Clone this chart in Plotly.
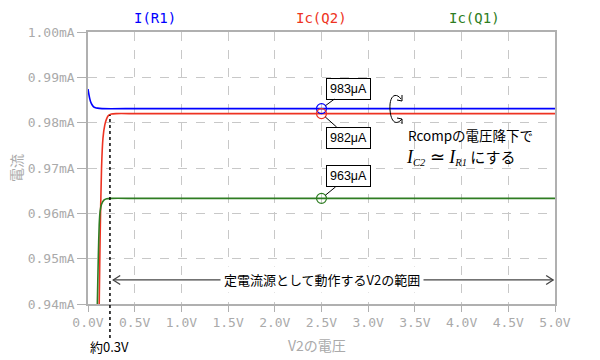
import plotly.graph_objects as go

# ---- data (V in volts, I in mA) ----
v_r1 = [0.0, 0.01, 0.02, 0.03, 0.045, 0.06, 0.08, 0.10, 0.15, 0.5, 1.0, 2.0, 3.0, 4.0, 5.0]
i_r1 = [0.9874, 0.9862, 0.9852, 0.9845, 0.9839, 0.9835, 0.9833, 0.9832, 0.9831, 0.9831, 0.9831, 0.9831, 0.9831, 0.9831, 0.9831]

v_q2 = [0.115, 0.12, 0.13, 0.145, 0.16, 0.18, 0.20, 0.22, 0.25, 0.3, 0.5, 1.0, 2.0, 3.0, 4.0, 5.0]
i_q2 = [0.935, 0.940, 0.955, 0.970, 0.9765, 0.9795, 0.9809, 0.9816, 0.9819, 0.9820, 0.9820, 0.9820, 0.9820, 0.9820, 0.9820, 0.9820]

v_q1 = [0.095, 0.10, 0.11, 0.12, 0.13, 0.145, 0.17, 0.20, 0.25, 0.5, 1.0, 2.0, 3.0, 4.0, 5.0]
i_q1 = [0.935, 0.940, 0.950, 0.9575, 0.9605, 0.9620, 0.9629, 0.9632, 0.9633, 0.9633, 0.9633, 0.9633, 0.9633, 0.9633, 0.9633]

marker_v = 2.5
marker_i = [0.9831, 0.9820, 0.9633]
marker_labels = ["983μA", "982μA", "963μA"]

names = ["I(R1)", "Ic(Q2)", "Ic(Q1)"]
colors = ["#0000ff", "#ee3322", "#2e7d22"]
name_x = [0.72, 2.5, 4.14]

x_ticks = [0.0, 0.5, 1.0, 1.5, 2.0, 2.5, 3.0, 3.5, 4.0, 4.5, 5.0]
y_ticks = [0.94, 0.95, 0.96, 0.97, 0.98, 0.99, 1.00]

knee_v = 0.235
range_arrow_i = 0.9453
range_arrow_v = [0.27, 4.98]

fig = go.Figure()
for vx, iy, c in [(v_r1, i_r1, colors[0]), (v_q2, i_q2, colors[1]), (v_q1, i_q1, colors[2])]:
    fig.add_trace(go.Scatter(x=vx, y=iy, mode="lines", line=dict(color=c, width=1.6, shape="spline", smoothing=0.6),
                             showlegend=False, hoverinfo="skip"))
for iy, c in zip(marker_i, colors):
    fig.add_trace(go.Scatter(x=[marker_v], y=[iy], mode="markers",
                             marker=dict(symbol="circle-open", size=10, color=c, line=dict(width=1.2, color=c)),
                             showlegend=False, hoverinfo="skip"))

grid = "#c8c8c8"
axcol = "#b0b0b0"
tickfont = dict(family="DejaVu Sans Mono", size=13, color="#aaaaaa")

fig.update_layout(
    width=600, height=360,
    margin=dict(l=88, r=45, t=32, b=56),
    paper_bgcolor="white", plot_bgcolor="white",
    xaxis=dict(range=[0, 5], tickvals=x_ticks, ticktext=[f"{t:.1f}V" for t in x_ticks],
               showgrid=True, gridcolor=grid, griddash="dash", gridwidth=1,
               showline=True, linecolor=axcol, linewidth=1.5, mirror=True,
               ticks="outside", ticklen=6, tickcolor=axcol, tickfont=tickfont, zeroline=False),
    yaxis=dict(range=[0.94, 1.00], tickvals=y_ticks, ticktext=[f"{t:.2f}mA" for t in y_ticks],
               showgrid=True, gridcolor=grid, griddash="dash", gridwidth=1,
               showline=True, linecolor=axcol, linewidth=1.5, mirror=True,
               ticks="outside", ticklen=9, tickcolor=axcol, tickfont=tickfont, zeroline=False),
)

anns = []
# series names at top
for n, c, xv in zip(names, colors, name_x):
    anns.append(dict(x=xv, y=1.05, xref="x", yref="paper", text=n, showarrow=False,
                     font=dict(family="DejaVu Sans Mono", size=14, color=c), yanchor="middle"))
# axis titles
anns.append(dict(x=(16 - 88) / 467, y=0.5, xref="paper", yref="paper", text="電流", textangle=-90, showarrow=False,
                 xanchor="center", yanchor="middle",
                 font=dict(family="Noto Sans CJK JP", size=14, color="#aaaaaa")))
anns.append(dict(x=0.49, y=-0.152, xref="paper", yref="paper", text="V2の電圧", showarrow=False,
                 xanchor="center", font=dict(family="Noto Sans CJK JP", size=14, color="#aaaaaa"), yanchor="middle"))
# callouts
offsets = [(27, -20), (27, 24), (27, -22)]
for iy, lab, (ax, ay) in zip(marker_i, marker_labels, offsets):
    anns.append(dict(x=marker_v, y=iy, xref="x", yref="y", text=lab, showarrow=True, arrowhead=0,
                     arrowwidth=1, arrowcolor="black", ax=ax, ay=ay, standoff=5,
                     bgcolor="white", bordercolor="black", borderwidth=1, borderpad=3,
                     font=dict(family="Liberation Sans", size=12.5, color="black")))
# note
anns.append(dict(x=(406 - 88) / 93.4, y=(304 - 135) / 272, xref="x", yref="paper", text="Rcompの電圧降下で",
                 showarrow=False, xanchor="left", yanchor="middle",
                 font=dict(family="Noto Sans CJK JP", size=13.5, color="black")))
serif = "font-family:'Liberation Serif';font-size:18px"
anns.append(dict(x=(404 - 88) / 93.4, y=(304 - 157) / 272, xref="x", yref="paper",
                 text=(f"<span style=\"{serif}\"><i>I</i></span><sub><span style=\"font-family:'Liberation Serif'\"><i>C2</i></span></sub>"
                       f"<span style=\"{serif}\"> ≃ <i>I</i></span><sub><span style=\"font-family:'Liberation Serif'\"><i>R1</i></span></sub>"
                       " にする"),
                 showarrow=False, xanchor="left", yanchor="middle",
                 font=dict(family="Noto Sans CJK JP", size=15, color="black")))
anns.append(dict(x=2.51, y=range_arrow_i, xref="x", yref="y", text="定電流源として動作するV2の範囲",
                 showarrow=False, bgcolor="white", borderpad=3,
                 font=dict(family="Noto Sans CJK JP", size=13, color="black")))
# knee label
anns.append(dict(x=knee_v, y=-0.158, xref="x", yref="paper", text="約0.3V", showarrow=False,
                 font=dict(family="Noto Sans CJK JP", size=13, color="black"), yanchor="middle"))

# range arrow: line + open chevrons (drawn below the label)
arrow_col = "#444444"
dv = 7 / 93.4
di = 4.5 / 45.3 * 0.01
fig.add_shape(type="line", xref="x", yref="y", x0=range_arrow_v[0], x1=range_arrow_v[1],
              y0=range_arrow_i, y1=range_arrow_i, line=dict(color=arrow_col, width=1.3), layer="above")
fig.add_shape(type="path", xref="x", yref="y",
              path=f"M {range_arrow_v[0] + dv},{range_arrow_i + di} L {range_arrow_v[0]},{range_arrow_i} L {range_arrow_v[0] + dv},{range_arrow_i - di}",
              line=dict(color=arrow_col, width=1.3))
fig.add_shape(type="path", xref="x", yref="y",
              path=f"M {range_arrow_v[1] - dv},{range_arrow_i + di} L {range_arrow_v[1]},{range_arrow_i} L {range_arrow_v[1] - dv},{range_arrow_i - di}",
              line=dict(color=arrow_col, width=1.3))
fig.update_layout(annotations=anns)

# dotted knee line
fig.add_shape(type="line", xref="x", yref="paper", x0=knee_v, x1=knee_v, y0=-0.125, y1=(304 - 115) / 272,
              line=dict(color="black", width=1.5, dash="dot"))

# rotation symbol near the note (paper coords)
def P(px, py):
    return f"{(px - 88) / 467:.4f},{(304 - py) / 272:.4f}"

path = ("M " + P(401, 99) + " C " + P(396, 92) + " " + P(389, 95) + " " + P(390, 110)
        + " C " + P(391, 122) + " " + P(396, 126) + " " + P(402, 119))
fig.add_shape(type="path", xref="paper", yref="paper", path=path, line=dict(color="black", width=1))
fig.add_shape(type="path", xref="paper", yref="paper",
              path="M " + P(397, 100) + " L " + P(402, 101) + " L " + P(402, 95), line=dict(color="black", width=1))
fig.add_shape(type="path", xref="paper", yref="paper",
              path="M " + P(397, 118) + " L " + P(402, 119) + " L " + P(402, 124), line=dict(color="black", width=1))

fig.write_html("out.html")
